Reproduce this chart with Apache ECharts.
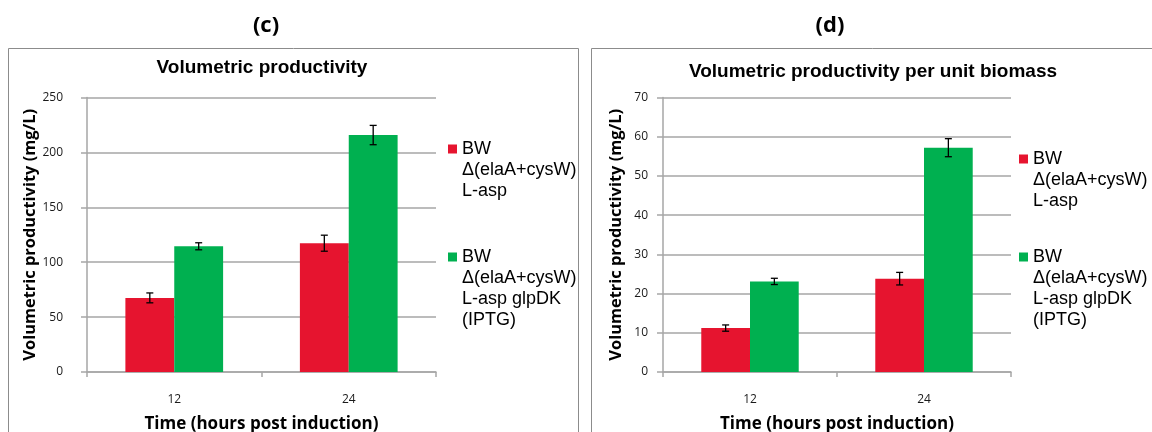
<!DOCTYPE html>
<html>
<head>
<meta charset="utf-8">
<script src="https://cdn.jsdelivr.net/npm/echarts@6/dist/echarts.min.js"></script>
<style>
  html, body { margin: 0; padding: 0; background: #fff; }
  #chart { width: 1152px; height: 432px; }
</style>
</head>
<body>
<div id="chart"></div>
<script>
// Sampling times (hours post induction)
const categories = ['12', '24'];
const strainNames = ['BW\nΔ(elaA+cysW)\nL-asp', 'BW\nΔ(elaA+cysW)\nL-asp glpDK\n(IPTG)'];

// (c) Volumetric productivity, mg/L
const volAsp = [67.5, 117.3];
const volAspErr = [4.5, 7.3];
const volGlp = [114.5, 215.8];
const volGlpErr = [3.2, 8.8];

// (d) Volumetric productivity per unit biomass
const bioAsp = [11.2, 23.8];
const bioAspErr = [0.8, 1.6];
const bioGlp = [23.1, 57.2];
const bioGlpErr = [0.8, 2.3];

// Axis ticks
const volTicks = { min: 0, max: 250, interval: 50 };
const bioTicks = { min: 0, max: 70, interval: 10 };

const RED = '#E6142F';
const GREEN = '#00B050';
const GRID_GRAY = '#a6a6a6';
const CAT_GAP = 0.44;

const tickFont = { fontFamily: 'Open Sans', fontSize: 12, color: '#1a1a1a' };
const xNameFont = { fontFamily: 'Open Sans', fontWeight: 'bold', fontSize: 17, color: '#000' };
const yNameFont = { fontFamily: 'Open Sans', fontWeight: 'bold', fontSize: 16.4, color: '#000' };

function errorBars(side) {
  return function (params, api) {
    const idx = api.value(0), v = api.value(1), e = api.value(2);
    const hi = api.coord([idx, v + e]);
    const lo = api.coord([idx, v - e]);
    const band = api.size([1, 0])[0];
    const barW = band * (1 - CAT_GAP) / 2;
    const x = hi[0] + side * barW / 2;
    const cap = 3.5;
    const st = { stroke: '#000', lineWidth: 1.3 };
    return {
      type: 'group',
      children: [
        { type: 'line', shape: { x1: x, y1: hi[1], x2: x, y2: lo[1] }, style: st },
        { type: 'line', shape: { x1: x - cap, y1: hi[1], x2: x + cap, y2: hi[1] }, style: st },
        { type: 'line', shape: { x1: x - cap, y1: lo[1], x2: x + cap, y2: lo[1] }, style: st }
      ]
    };
  };
}

function errData(vals, errs) {
  return vals.map((v, i) => [i, v, errs[i]]);
}

function xAxisCfg(gridIndex) {
  return {
    type: 'category', gridIndex, data: categories,
    axisLine: { lineStyle: { color: GRID_GRAY, width: 1.5 } },
    axisTick: { show: true, length: 5, lineStyle: { color: GRID_GRAY, width: 1.5 } },
    axisLabel: Object.assign({ margin: 22 }, tickFont),
    name: 'Time (hours post induction)', nameLocation: 'middle', nameGap: 44,
    nameTextStyle: xNameFont
  };
}

function yAxisCfg(gridIndex, ticks, labelMargin, nameGap) {
  return Object.assign({
    type: 'value', gridIndex,
    axisLine: { show: true, lineStyle: { color: GRID_GRAY, width: 1.5 } },
    axisTick: { show: true, length: 6, lineStyle: { color: GRID_GRAY, width: 1.5 } },
    splitLine: { lineStyle: { color: GRID_GRAY, width: 1.5 } },
    axisLabel: Object.assign({ margin: labelMargin }, tickFont),
    name: 'Volumetric productivity (mg/L)', nameLocation: 'middle', nameGap,
    nameTextStyle: yNameFont
  }, ticks);
}

// Legend: blank lines ahead of each label put its first line level with the icon
const LEG_LH = 21;
const lineCount = s => s.split('\n').length;
function legendCfg(left, firstIconCenter, itemDistance) {
  const box0 = (2 * lineCount(strainNames[0]) - 1) * LEG_LH;
  const box1 = (2 * lineCount(strainNames[1]) - 1) * LEG_LH;
  const gap = itemDistance - (box0 / 2 + box1 / 2);
  return {
    orient: 'vertical', left, top: firstIconCenter - box0 / 2, padding: 0,
    itemWidth: 9, itemHeight: 9, itemGap: gap, icon: 'rect',
    data: strainNames,
    formatter: name => '\n'.repeat(lineCount(name) - 1) + name,
    textStyle: { fontFamily: 'Liberation Sans', fontSize: 18, lineHeight: LEG_LH, color: '#000' }
  };
}

const panelLabel = { fontFamily: 'Open Sans', fontWeight: 'bold', fontSize: 22, color: '#000' };
const chartTitle = { fontFamily: 'Liberation Sans', fontWeight: 'bold', fontSize: 19, color: '#000' };

const chart = echarts.init(document.getElementById('chart'), null, { renderer: 'canvas' });
chart.setOption({
  animation: false,
  backgroundColor: '#fff',
  graphic: [
    { type: 'rect', shape: { x: 8.5, y: 48.5, width: 570, height: 420 }, style: { fill: 'none', stroke: '#8c8c8c', lineWidth: 1 }, z: -1 },
    { type: 'rect', shape: { x: 591.5, y: 48.5, width: 600, height: 420 }, style: { fill: 'none', stroke: '#8c8c8c', lineWidth: 1 }, z: -1 }
  ],
  title: [
    { text: '(c)', left: 266, top: 15, padding: 0, textAlign: 'center', textStyle: panelLabel },
    { text: '(d)', left: 830, top: 15, padding: 0, textAlign: 'center', textStyle: panelLabel },
    { text: 'Volumetric productivity', left: 262, top: 58, padding: 0, textAlign: 'center', textStyle: chartTitle },
    { text: 'Volumetric productivity per unit biomass', left: 873, top: 62, padding: 0, textAlign: 'center', textStyle: chartTitle }
  ],
  legend: [
    legendCfg(448, 149, 108),
    legendCfg(1019, 159, 98)
  ],
  grid: [
    { left: 87, top: 97.5, width: 349, height: 274.5, outerBoundsMode: 'none' },
    { left: 663, top: 97.5, width: 348, height: 274.5, outerBoundsMode: 'none' }
  ],
  xAxis: [xAxisCfg(0), xAxisCfg(1)],
  yAxis: [yAxisCfg(0, volTicks, 24, 48), yAxisCfg(1, bioTicks, 15, 39)],
  series: [
    { type: 'bar', name: strainNames[0], xAxisIndex: 0, yAxisIndex: 0, data: volAsp, itemStyle: { color: RED }, barGap: '0%', barCategoryGap: '44%' },
    { type: 'bar', name: strainNames[1], xAxisIndex: 0, yAxisIndex: 0, data: volGlp, itemStyle: { color: GREEN }, barGap: '0%', barCategoryGap: '44%' },
    { type: 'bar', name: strainNames[0], xAxisIndex: 1, yAxisIndex: 1, data: bioAsp, itemStyle: { color: RED }, barGap: '0%', barCategoryGap: '44%' },
    { type: 'bar', name: strainNames[1], xAxisIndex: 1, yAxisIndex: 1, data: bioGlp, itemStyle: { color: GREEN }, barGap: '0%', barCategoryGap: '44%' },
    { type: 'custom', xAxisIndex: 0, yAxisIndex: 0, data: errData(volAsp, volAspErr), renderItem: errorBars(-1), z: 5 },
    { type: 'custom', xAxisIndex: 0, yAxisIndex: 0, data: errData(volGlp, volGlpErr), renderItem: errorBars(1), z: 5 },
    { type: 'custom', xAxisIndex: 1, yAxisIndex: 1, data: errData(bioAsp, bioAspErr), renderItem: errorBars(-1), z: 5 },
    { type: 'custom', xAxisIndex: 1, yAxisIndex: 1, data: errData(bioGlp, bioGlpErr), renderItem: errorBars(1), z: 5 }
  ]
});
</script>
</body>
</html>
